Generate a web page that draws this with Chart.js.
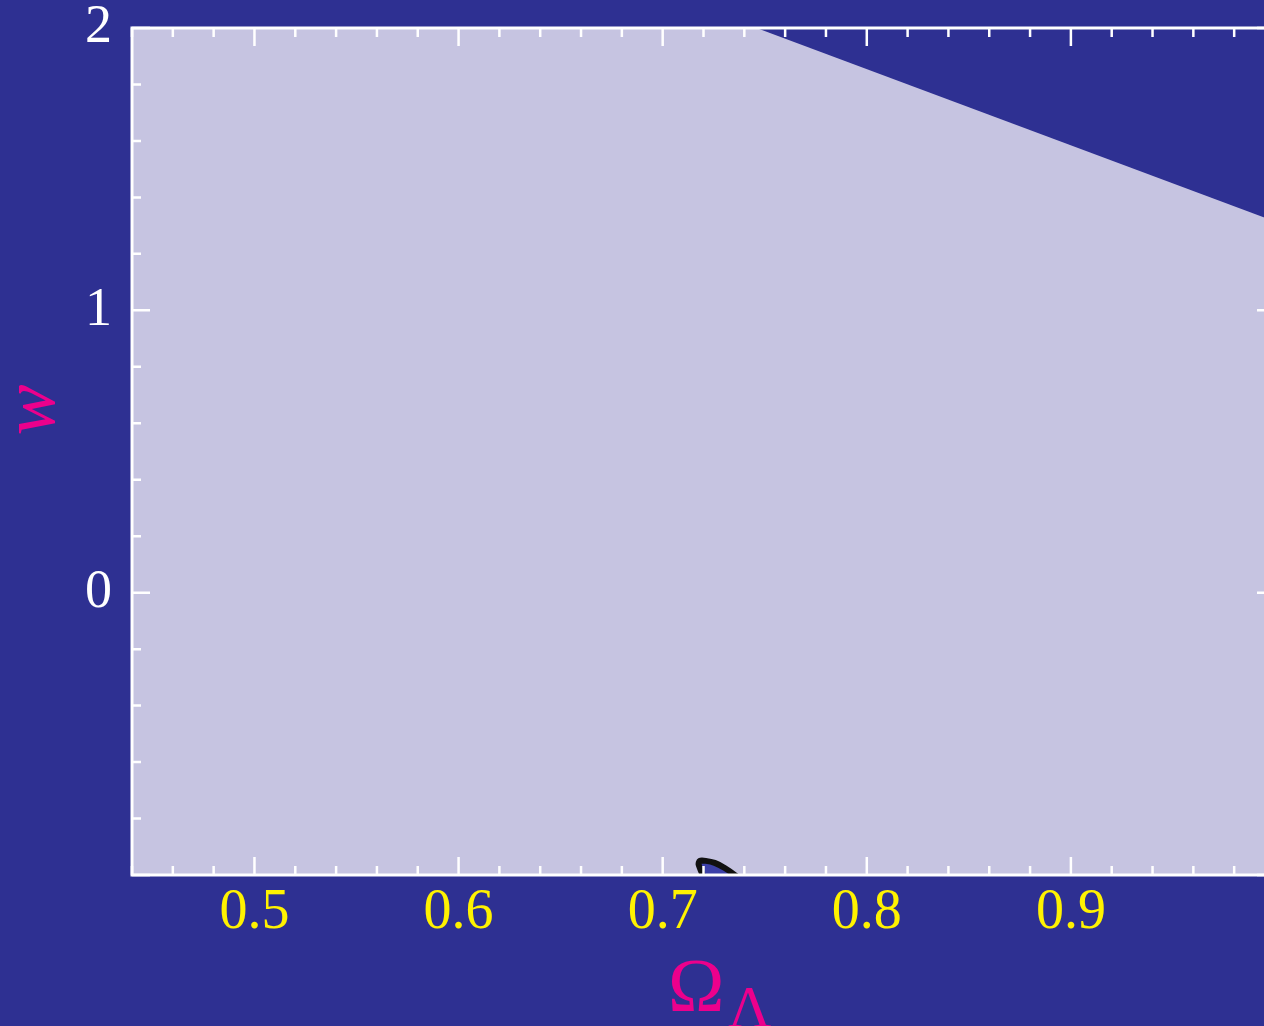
<!DOCTYPE html>
<html>
<head>
<meta charset="utf-8">
<script src="https://cdn.jsdelivr.net/npm/chart.js@4"></script>
<style>
  html, body { margin: 0; padding: 0; background: #2E3092; overflow: hidden; }
  #wrap { position: relative; width: 1300px; height: 1026px; }
</style>
</head>
<body>
<div id="wrap"><canvas id="chart"></canvas></div>
<script>
// allowed region boundary (Omega_Lambda, w)
const boundaryOmega = [0.44, 0.746, 1.0];
const boundaryW = [2.0, 2.0, 1.315];

// small confidence contour, clipped by the bottom axis
const contourOmega = [0.7196, 0.7176, 0.7181, 0.7211, 0.7255, 0.7304, 0.7353, 0.7400, 0.7196, 0.7196];
const contourW = [-1.000, -0.962, -0.950, -0.950, -0.957, -0.975, -1.000, -1.035, -1.035, -1.000];

const xTickLabels = [0.5, 0.6, 0.7, 0.8, 0.9];
const yTickLabels = [0, 1, 2];

const FILL = '#C6C4E1';
const YELLOW = '#FFF200';
const MAGENTA = '#EC008C';
const SERIF = '"Liberation Serif"';

const toPoints = (xs, ys) => xs.map((x, i) => ({ x: x, y: ys[i] }));

// axes, inward ticks on all four sides, and axis titles
const framePlugin = {
  id: 'frame',
  afterDatasetsDraw(chart) {
    const ctx = chart.ctx;
    const xs = chart.scales.x, ys = chart.scales.y;
    const a = chart.chartArea;
    ctx.save();
    ctx.strokeStyle = '#FFFFFF';
    ctx.lineWidth = 2.5;
    for (let i = 0; i <= 28; i++) {
      const v = 0.44 + i * 0.02;
      const px = xs.getPixelForValue(v);
      const major = Math.abs(v * 10 - Math.round(v * 10)) < 1e-6;
      const len = major ? 18 : 9;
      ctx.beginPath();
      ctx.moveTo(px, a.bottom); ctx.lineTo(px, a.bottom - len);
      ctx.moveTo(px, a.top); ctx.lineTo(px, a.top + len);
      ctx.stroke();
    }
    for (let i = 0; i <= 15; i++) {
      const v = -1 + i * 0.2;
      const py = ys.getPixelForValue(v);
      const major = Math.abs(v - Math.round(v)) < 1e-6;
      const len = major ? 18 : 9;
      ctx.beginPath();
      ctx.moveTo(a.left, py); ctx.lineTo(a.left + len, py);
      ctx.moveTo(a.right, py); ctx.lineTo(a.right - len, py);
      ctx.stroke();
    }
    ctx.lineWidth = 3;
    ctx.strokeRect(a.left, a.top, a.right - a.left, a.bottom - a.top);

    ctx.fillStyle = MAGENTA;
    ctx.font = 'italic 76px ' + SERIF;
    ctx.textAlign = 'center';
    ctx.textBaseline = 'middle';
    ctx.translate(34, 410);
    ctx.rotate(-Math.PI / 2);
    ctx.fillText('w', 0, 0);
    ctx.restore();

    ctx.save();
    ctx.fillStyle = MAGENTA;
    ctx.textAlign = 'left';
    ctx.textBaseline = 'alphabetic';
    ctx.font = '76px ' + SERIF;
    ctx.fillText('\u03A9', 668, 1011);
    ctx.font = '60px ' + SERIF;
    ctx.fillText('\u039B', 728, 1027);
    ctx.restore();
  }
};

new Chart(document.getElementById('chart'), {
  type: 'scatter',
  data: {
    datasets: [
      {
        data: toPoints(boundaryOmega, boundaryW),
        showLine: true,
        borderWidth: 0,
        borderColor: FILL,
        backgroundColor: FILL,
        pointRadius: 0,
        fill: 'start',
        tension: 0,
        clip: 0,
        order: 2
      },
      {
        data: toPoints(contourOmega, contourW),
        showLine: true,
        borderWidth: 6,
        borderColor: '#111111',
        backgroundColor: '#3C40A8',
        pointRadius: 0,
        fill: 'shape',
        tension: 0.2,
        clip: 0,
        order: 1
      }
    ]
  },
  options: {
    responsive: true,
    maintainAspectRatio: false,
    animation: false,
    layout: { autoPadding: false, padding: { left: 0, right: 25, top: 28, bottom: 0 } },
    plugins: { legend: { display: false }, tooltip: { enabled: false } },
    scales: {
      x: {
        type: 'linear',
        min: 0.44,
        max: 1.0,
        grid: { display: false, drawTicks: false },
        border: { display: false },
        afterBuildTicks: (s) => { s.ticks = xTickLabels.map(v => ({ value: v })); },
        afterFit: (s) => { s.height = 151; s.paddingLeft = 0; s.paddingRight = 0; },
        ticks: {
          color: YELLOW,
          padding: 5,
          maxRotation: 0,
          font: { family: SERIF, size: 56 },
          callback: (v) => v.toFixed(1)
        }
      },
      y: {
        type: 'linear',
        min: -1,
        max: 2,
        grid: { display: false, drawTicks: false },
        border: { display: false },
        afterBuildTicks: (s) => { s.ticks = yTickLabels.map(v => ({ value: v })); },
        afterFit: (s) => { s.width = 132; s.paddingTop = 0; s.paddingBottom = 0; },
        ticks: {
          color: '#FFFFFF',
          padding: 20,
          font: { family: SERIF, size: 54 },
          callback: (v) => String(v)
        }
      }
    }
  },
  plugins: [framePlugin]
});
</script>
</body>
</html>
